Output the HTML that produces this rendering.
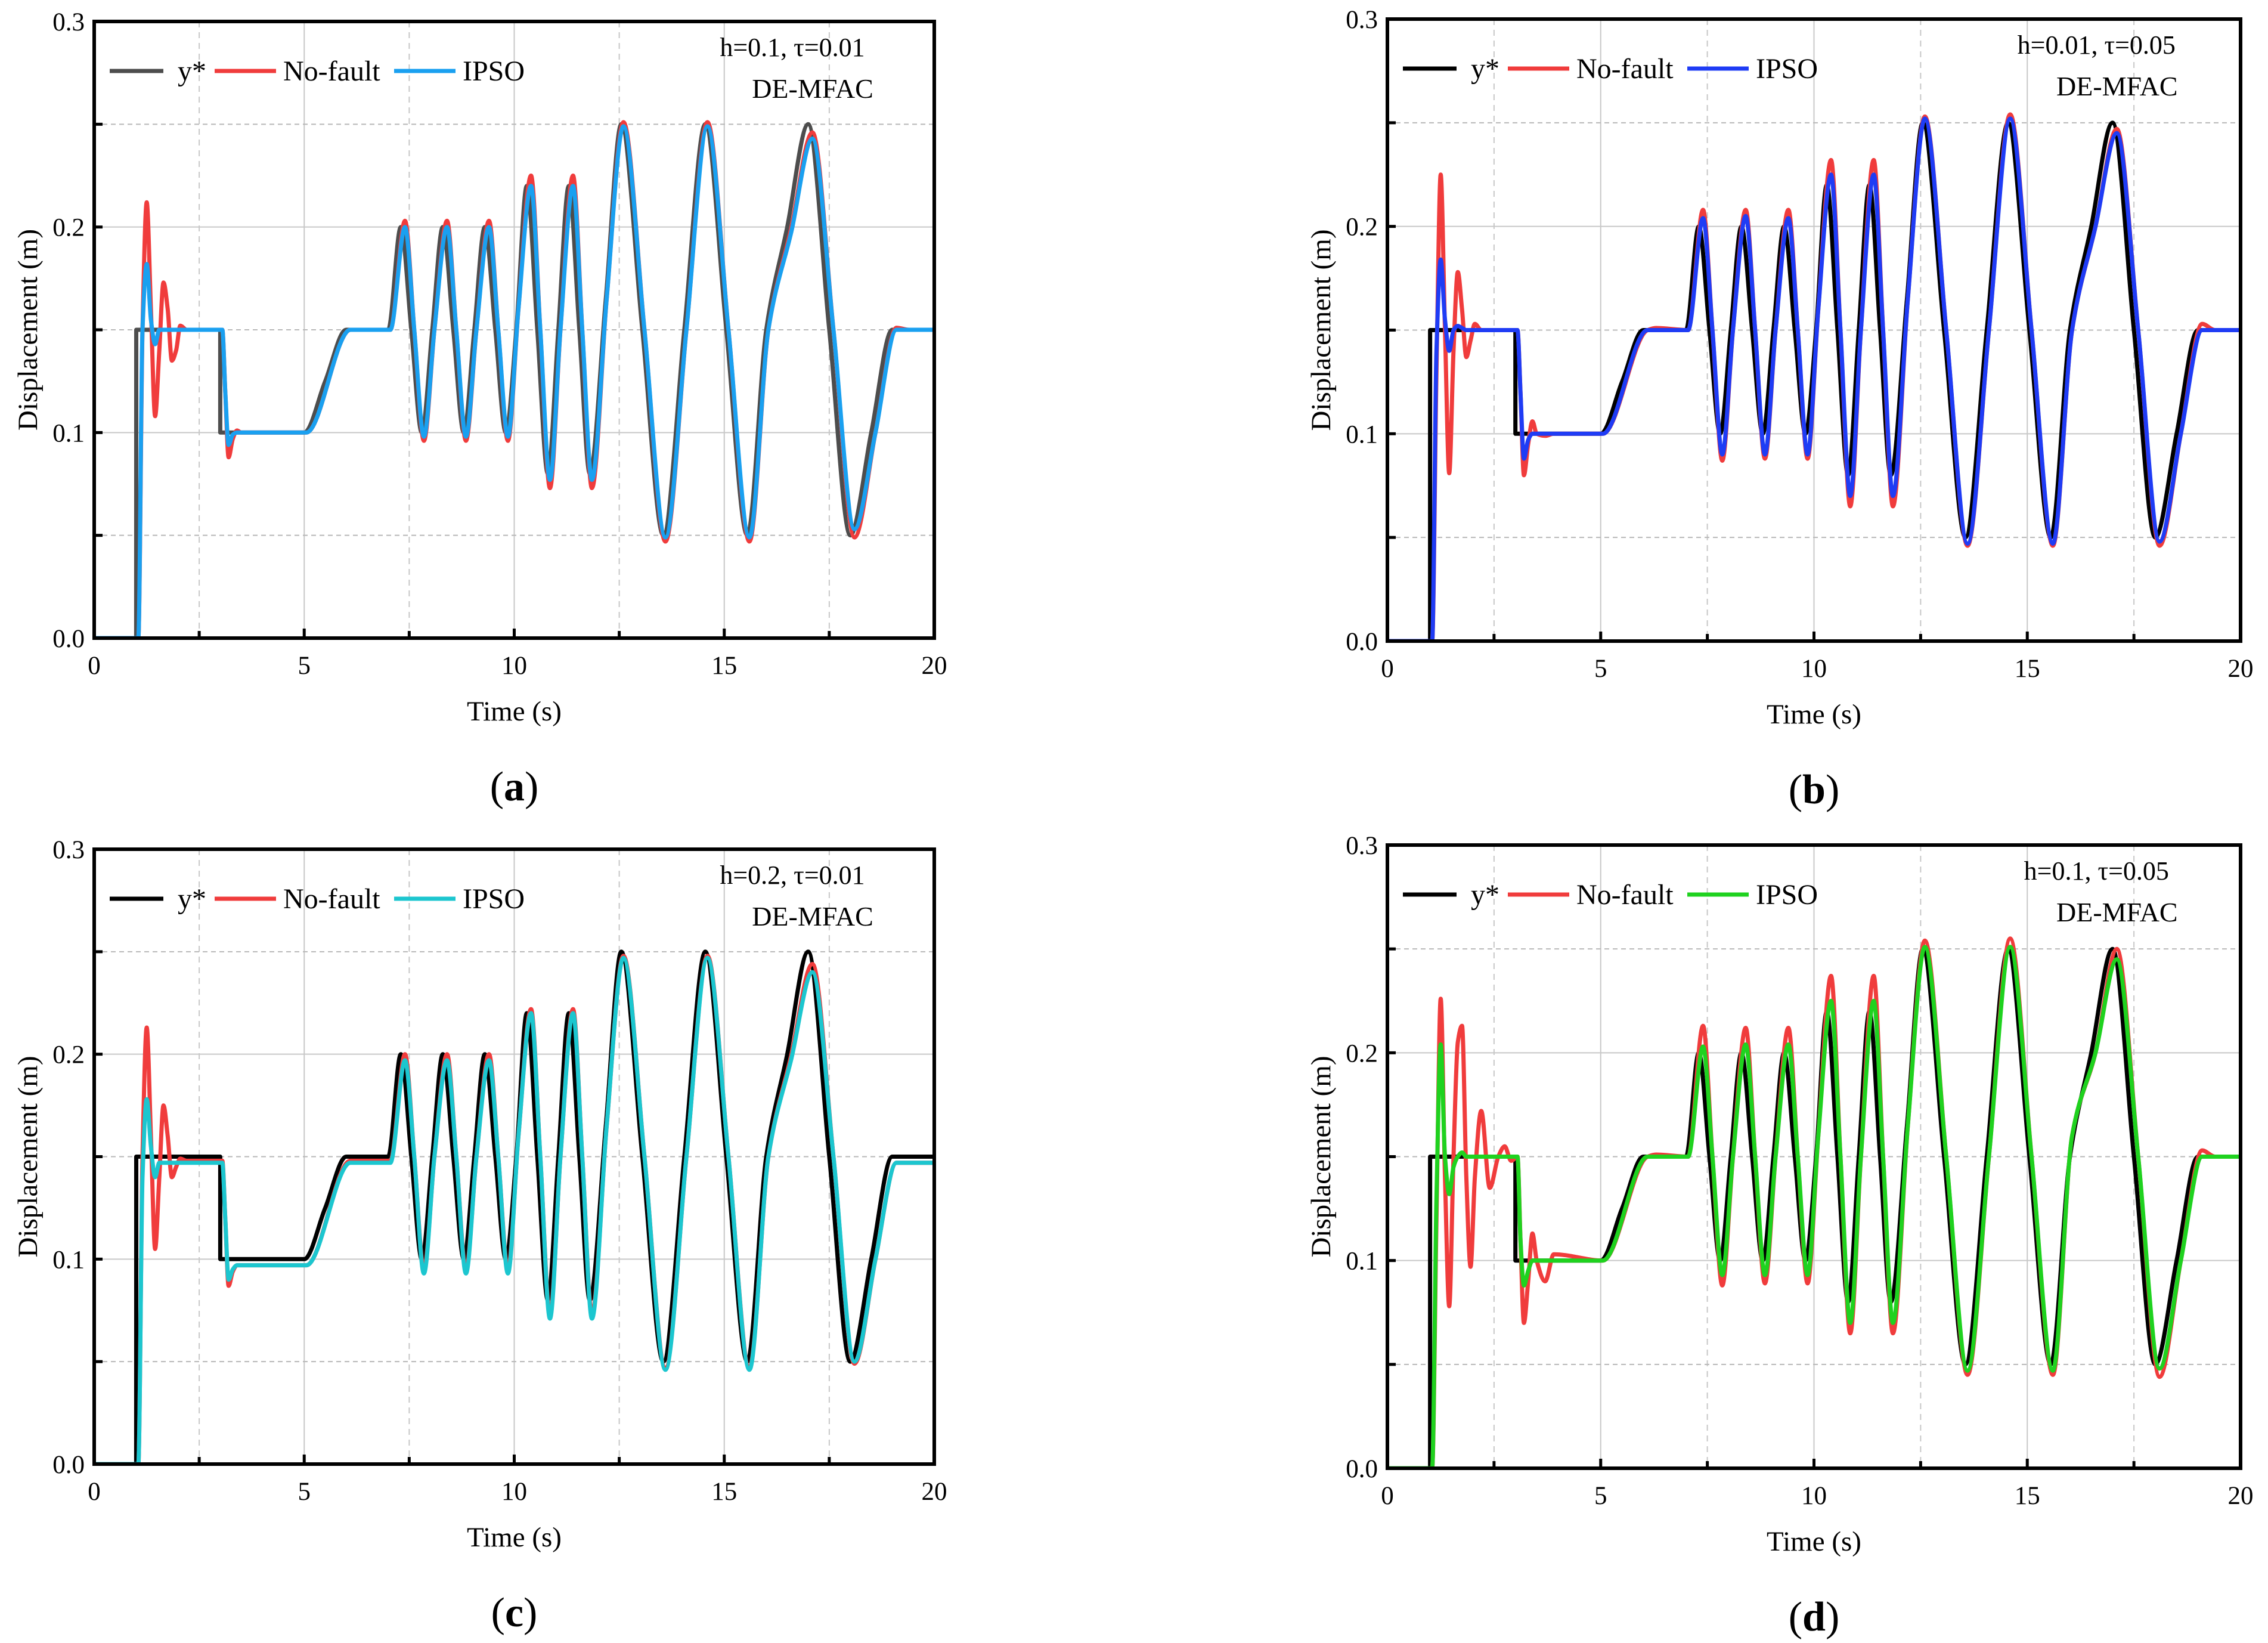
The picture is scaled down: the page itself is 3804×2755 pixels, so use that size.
<!DOCTYPE html>
<html><head><meta charset="utf-8">
<style>
html,body{margin:0;padding:0;background:#fff;}
svg{display:block;font-family:"Liberation Serif",serif;}
</style></head>
<body>
<svg id="fig" width="3804" height="2755" viewBox="0 0 3804 2755" xmlns="http://www.w3.org/2000/svg"></svg>
<script>
// ---- data ----
const xTicks = [0,5,10,15,20];
const yTicks = [0.0,0.1,0.2,0.3];
const yTickLabels = ["0.0","0.1","0.2","0.3"];
const refTime = [0,1,1.001,3,3.001,5,5.5,6,7,7.3,7.55,7.8,8.05,8.3,8.55,8.8,9.05,9.3,9.55,9.8,10.05,10.3,10.55,10.8,11.05,11.3,11.55,11.8,12.18,12.55,13.05,13.55,14.05,14.55,15.05,15.55,16,16.5,17,17.5,18,18.5,19,20];
const refValue = [0,0,0.15,0.15,0.1,0.1,0.125,0.15,0.15,0.2,0.15,0.1,0.15,0.2,0.15,0.1,0.15,0.2,0.15,0.1,0.15,0.22,0.15,0.08,0.15,0.22,0.15,0.08,0.165,0.25,0.15,0.05,0.15,0.25,0.15,0.05,0.15,0.2,0.25,0.15,0.05,0.1,0.15,0.15];
const respTime = [0,1.05,1.15,1.25,1.35,1.45,1.55,1.65,1.75,1.85,1.95,2.05,2.2,2.4,2.6,2.75,2.9,3.05,3.12,3.2,3.3,3.4,3.5,3.7,3.9,5.05,6.1,6.3,7.05,7.4,7.62,7.85,8.1,8.4,8.62,8.85,9.1,9.4,9.62,9.85,10.1,10.4,10.62,10.85,11.1,11.4,11.62,11.85,12.2,12.6,13.1,13.6,14.1,14.6,15.1,15.6,16.05,16.6,17.1,17.6,18.1,18.6,19.1,19.4,20];
const nfA = [0,0,0.15,0.212,0.16,0.108,0.14,0.173,0.16,0.135,0.14,0.152,0.15,0.15, 0.15,0.15,0.15, 0.15,0.12,0.088,0.097,0.101,0.1,0.1,0.1, 0.1,0.15,0.15, 0.15, 0.203,0.15,0.096,0.15, 0.203,0.15,0.096,0.15, 0.203,0.15,0.096,0.16, 0.225,0.15,0.073,0.15, 0.225,0.15,0.073,0.165, 0.251,0.15,0.047,0.15, 0.251,0.15,0.047,0.15, 0.2,0.246,0.15,0.049, 0.1,0.151,0.15,0.15];
const ipsoA = [0,0,0.15,0.182,0.155,0.143,0.15,0.15,0.15,0.15,0.15,0.15,0.15,0.15, 0.15,0.15,0.15, 0.15,0.12,0.094,0.099,0.1,0.1,0.1,0.1, 0.1,0.15,0.15, 0.15, 0.2,0.15,0.098,0.15, 0.2,0.15,0.098,0.15, 0.2,0.15,0.098,0.16, 0.22,0.15,0.077,0.15, 0.22,0.15,0.077,0.165, 0.249,0.15,0.049,0.15, 0.249,0.15,0.049,0.15, 0.198,0.243,0.15,0.053, 0.1,0.15,0.15,0.15];
const nfB = [0,0,0.13,0.225,0.15,0.081,0.14,0.178,0.16,0.137,0.145,0.153,0.15,0.15, 0.15,0.15,0.15, 0.15,0.12,0.08,0.095,0.106,0.1,0.099,0.1, 0.1,0.15,0.151, 0.15, 0.208,0.15,0.087,0.15, 0.208,0.15,0.088,0.15, 0.208,0.15,0.088,0.16, 0.232,0.15,0.065,0.15, 0.232,0.15,0.065,0.165, 0.253,0.15,0.046,0.15, 0.254,0.15,0.046,0.15, 0.2,0.247,0.15,0.046, 0.1,0.153,0.15,0.15];
const ipsoB = [0,0,0.14,0.184,0.155,0.14,0.15,0.152,0.151,0.15,0.15,0.15,0.15,0.15, 0.15,0.15,0.15, 0.15,0.12,0.088,0.097,0.1,0.1,0.1,0.1, 0.1,0.15,0.15, 0.15, 0.204,0.15,0.09,0.15, 0.205,0.15,0.09,0.15, 0.204,0.15,0.09,0.16, 0.225,0.15,0.07,0.15, 0.225,0.15,0.07,0.165, 0.252,0.15,0.047,0.15, 0.252,0.15,0.047,0.15, 0.2,0.245,0.15,0.048, 0.1,0.15,0.15,0.15];
const nfC = [0,0,0.15,0.213,0.16,0.105,0.14,0.175,0.16,0.14,0.145,0.149,0.148,0.148, 0.148,0.148,0.148, 0.148,0.12,0.087,0.094,0.097,0.097,0.097,0.097, 0.097,0.148,0.148, 0.148, 0.2,0.15,0.095,0.15, 0.2,0.15,0.095,0.15, 0.2,0.15,0.095,0.16, 0.222,0.15,0.073,0.15, 0.222,0.15,0.073,0.165, 0.248,0.15,0.047,0.15, 0.248,0.15,0.047,0.15, 0.2,0.244,0.15,0.049, 0.1,0.147,0.147,0.147];
const ipsoC = [0,0,0.14,0.178,0.155,0.14,0.147,0.147,0.147,0.147,0.147,0.147,0.147,0.147, 0.147,0.147,0.147, 0.147,0.12,0.09,0.095,0.097,0.097,0.097,0.097, 0.097,0.147,0.147, 0.147, 0.197,0.15,0.093,0.15, 0.197,0.15,0.093,0.15, 0.197,0.15,0.093,0.16, 0.22,0.15,0.071,0.15, 0.22,0.15,0.071,0.165, 0.247,0.15,0.046,0.15, 0.247,0.15,0.046,0.15, 0.198,0.24,0.15,0.05, 0.1,0.147,0.147,0.147];
const nfD = [0,0,0.12,0.226,0.14,0.078,0.15,0.205,0.213,0.14,0.097,0.14,0.172,0.135, 0.15,0.155,0.148, 0.15,0.11,0.07,0.09,0.113,0.1,0.09,0.103, 0.1,0.15,0.151, 0.15, 0.213,0.15,0.088,0.15, 0.212,0.15,0.089,0.15, 0.212,0.15,0.089,0.16, 0.237,0.15,0.065,0.15, 0.237,0.15,0.065,0.165, 0.254,0.15,0.045,0.15, 0.255,0.15,0.045,0.16, 0.2,0.25,0.15,0.044, 0.1,0.153,0.15,0.15];
const ipsoD = [0,0,0.13,0.204,0.15,0.132,0.145,0.15,0.152,0.15,0.15,0.15,0.15,0.15, 0.15,0.15,0.15, 0.15,0.11,0.088,0.095,0.1,0.1,0.1,0.1, 0.1,0.15,0.15, 0.15, 0.203,0.15,0.093,0.15, 0.204,0.15,0.093,0.15, 0.204,0.15,0.093,0.16, 0.225,0.15,0.07,0.15, 0.225,0.15,0.07,0.165, 0.251,0.15,0.047,0.15, 0.251,0.15,0.047,0.16, 0.2,0.245,0.15,0.048, 0.1,0.15,0.15,0.15];

const NS = "http://www.w3.org/2000/svg";
const svg = document.getElementById('fig');
function mk(tag, attrs, parent){const e=document.createElementNS(NS,tag);for(const k in attrs)e.setAttribute(k,attrs[k]);(parent||svg).appendChild(e);return e;}

function monotonePath(xs, ys){
  const n=xs.length; const d=[],m=new Array(n);
  for(let i=0;i<n-1;i++) d.push((ys[i+1]-ys[i])/(xs[i+1]-xs[i]));
  m[0]=d[0]; m[n-1]=d[n-2];
  for(let i=1;i<n-1;i++){ if(d[i-1]*d[i]<=0) m[i]=0; else { const h0=xs[i]-xs[i-1],h1=xs[i+1]-xs[i]; m[i]=3*(h0+h1)/((2*h1+h0)/d[i-1]+(h1+2*h0)/d[i]); } }
  let p="M"+xs[0].toFixed(1)+","+ys[0].toFixed(1);
  for(let i=0;i<n-1;i++){ const h=(xs[i+1]-xs[i])/3;
    p+="C"+(xs[i]+h).toFixed(1)+","+(ys[i]+m[i]*h).toFixed(1)+" "+(xs[i+1]-h).toFixed(1)+","+(ys[i+1]-m[i+1]*h).toFixed(1)+" "+xs[i+1].toFixed(1)+","+ys[i+1].toFixed(1);}
  return p;
}

const panels = [
 {id:'a',L:158,R:1567,T:36,B:1070,ref:refValue,nf:nfA,ip:ipsoA,refColor:'#4d4d4d',ipColor:'#1aa0f0',h:'h=0.1, τ=0.01'},
 {id:'b',L:2327,R:3758,T:32,B:1075,ref:refValue,nf:nfB,ip:ipsoB,refColor:'#000',ipColor:'#1f3cf5',h:'h=0.01, τ=0.05'},
 {id:'c',L:158,R:1567,T:1424,B:2455,ref:refValue,nf:nfC,ip:ipsoC,refColor:'#000',ipColor:'#1cc6cf',h:'h=0.2, τ=0.01'},
 {id:'d',L:2327,R:3758,T:1417,B:2462,ref:refValue,nf:nfD,ip:ipsoD,refColor:'#000',ipColor:'#1fd21f',h:'h=0.1, τ=0.05'}
];

panels.forEach(P=>{
  const g=mk('g',{});
  
  
  const sx=t=>P.L+(t/20)*(P.R-P.L);
  const sy=v=>P.B-(v/0.3)*(P.B-P.T);
  [2.5,5,7.5,10,12.5,15,17.5].forEach(t=>{
    const ln=mk('line',{x1:sx(t),x2:sx(t),y1:P.T,y2:P.B,stroke:'#c8c8c8','stroke-width':2,'stroke-dasharray':(t%5===0)?'none':'10,8'},g);
    
    
  });
  [0.05,0.1,0.15,0.2,0.25].forEach(v=>{
    const major=Math.abs(v*10-Math.round(v*10))<1e-6;
    const ln=mk('line',{x1:P.L,x2:P.R,y1:sy(v),y2:sy(v),stroke:major?'#c8c8c8':'#b8b8b8','stroke-width':2,'stroke-dasharray':major?'none':'8,6'},g);
    
    
  });
  const clipId='clip'+P.id;
  const cp=mk('clipPath',{id:clipId},g); mk('rect',{x:P.L,y:P.T,width:P.R-P.L,height:P.B-P.T},cp);
  const refPath=mk('path',{d:monotonePath(refTime.map(sx),P.ref.map(sy)),fill:'none',stroke:P.refColor,'stroke-width':7,'stroke-linejoin':'round','clip-path':'url(#'+clipId+')'},g);
  
  
  const nfPath=mk('path',{d:monotonePath(respTime.map(sx),P.nf.map(sy)),fill:'none',stroke:'#f03c3c','stroke-width':7,'stroke-linejoin':'round','clip-path':'url(#'+clipId+')'},g);
  
  
  const ipPath=mk('path',{d:monotonePath(respTime.map(sx),P.ip.map(sy)),fill:'none',stroke:P.ipColor,'stroke-width':7,'stroke-linejoin':'round','clip-path':'url(#'+clipId+')'},g);
  
  
  const fr=mk('rect',{x:P.L,y:P.T,width:P.R-P.L,height:P.B-P.T,fill:'none',stroke:'#000','stroke-width':6},g);
  
  
  [2.5,5,7.5,10,12.5,15,17.5].forEach(t=>{
    const tk=mk('line',{x1:sx(t),x2:sx(t),y1:P.B,y2:P.B-(t%5===0?16:12),stroke:'#000','stroke-width':5},g);
    
    
  });
  [0.05,0.1,0.15,0.2,0.25].forEach(v=>{
    const tk=mk('line',{x1:P.L,x2:P.L+14,y1:sy(v),y2:sy(v),stroke:'#000','stroke-width':5},g);
    
    
  });
  xTicks.forEach(t=>{
    const tx=mk('text',{x:sx(t),y:P.B+60,'font-size':43,'text-anchor':'middle'},g); tx.textContent=String(t);
    
    
  });
  yTicks.forEach((v,i)=>{
    const tx=mk('text',{x:P.L-16,y:sy(v)+15,'font-size':43,'text-anchor':'end'},g); tx.textContent=yTickLabels[i];
    
    
  });
  const xt=mk('text',{x:(P.L+P.R)/2,y:P.B+138,'font-size':47,'text-anchor':'middle'},g); xt.textContent='Time (s)';
  
  
  const yx=P.L-96, yy=(P.T+P.B)/2;
  const yt=mk('text',{x:yx,y:yy,'font-size':47,'text-anchor':'middle',transform:'rotate(-90 '+yx+' '+yy+')'},g); yt.textContent='Displacement (m)';
  
  
  const ly=P.T+83;
  const leg=[{c:P.refColor,t:'y*',x0:26,x1:116,tx:140},{c:'#f03c3c',t:'No-fault',x0:202,x1:305,tx:317},{c:P.ipColor,t:'IPSO',x0:503,x1:606,tx:618}];
  leg.forEach(e=>{
    const lg=mk('g',{},g);
    
    
    mk('line',{x1:P.L+e.x0,x2:P.L+e.x1,y1:ly,y2:ly,stroke:e.c,'stroke-width':7},lg);
    const t=mk('text',{x:P.L+e.tx,y:ly+16,'font-size':48},lg); t.textContent=e.t;
  });
  const ann=mk('text',{x:P.L+1171*(P.R-P.L)/1409,y:P.T+58,'font-size':44,'text-anchor':'middle'},g); ann.textContent=P.h;
  
  
  const de=mk('text',{x:P.L+1205*(P.R-P.L)/1409,y:P.T+128,'font-size':46,'text-anchor':'middle'},g); de.textContent='DE-MFAC';
  
  
  const pl=mk('text',{x:(P.L+P.R)/2,y:P.B+272,'font-size':70,'text-anchor':'middle'},g);
  pl.innerHTML='(<tspan font-weight="bold">'+P.id+'</tspan>)';
  
  
});
</script>
</body></html>
